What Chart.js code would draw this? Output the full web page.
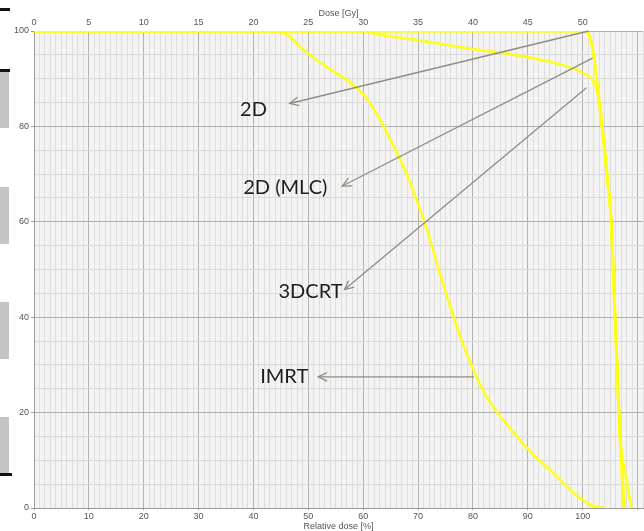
<!DOCTYPE html>
<html><head><meta charset="utf-8">
<script src="https://cdn.jsdelivr.net/npm/chart.js@4"></script>
<style>
html,body{margin:0;padding:0;background:#fff;}
#wrap{position:relative;width:644px;height:531px;overflow:hidden;}
canvas{position:absolute;left:0;top:0;}
.bar{position:absolute;left:0;width:9px;background:#c4c4c4;}
.blk{position:absolute;left:0;height:3px;background:#111;}
</style></head><body>
<div id="wrap"><canvas id="c" width="644" height="531"></canvas>
<div class="blk" style="top:8px;width:10px"></div>
<div class="blk" style="top:69px;width:10px"></div>
<div class="bar" style="top:72px;height:56px"></div>
<div class="bar" style="top:187px;height:57px"></div>
<div class="bar" style="top:302px;height:57px"></div>
<div class="bar" style="top:417px;height:56px"></div>
<div class="blk" style="top:473px;width:12px"></div>
</div>
<script>
// ---- data (relative dose [%] vs volume [%]) ----
const seriesNames = ['2D', '2D (MLC)', '3DCRT', 'IMRT'];
const dose2D = [0, 20, 40, 60, 80, 100, 101, 101.6, 102.1, 102.7, 103.3, 103.9, 104.6, 105.1, 105.5, 105.8, 106.2, 106.5, 106.9, 107.8, 108.9];
const vol2D  = [100, 100, 100, 100, 100, 100, 99.5, 97.5, 94, 88, 82, 76, 68, 62, 52, 43, 32, 23, 14, 7, 0];
const doseMLC = [0, 20, 40, 60, 80, 100.3, 101.1, 101.7, 102.2, 102.8, 103.4, 104.0, 104.6, 105.1, 105.5, 105.8, 106.2, 106.5, 106.8, 107.1, 107.5];
const volMLC  = [100, 100, 100, 100, 100, 100, 99.3, 97, 93.5, 87.5, 81.5, 75.5, 68, 62, 52, 43, 32, 23, 15, 8, 0];
const dose3D = [0, 30, 60.5, 61.5, 70, 78.9, 87.5, 96.2, 99.8, 101.5, 102.4, 103.2, 103.9, 104.6, 105.1, 105.5, 105.8, 106.2, 106.5, 106.8, 107.2, 107.6];
const vol3D  = [100, 100, 100, 99.6, 98.1, 96.4, 95.0, 92.9, 91.4, 90.1, 88.3, 84, 76, 68, 62, 52, 43, 32, 23, 15, 8, 0];
const doseIMRT = [0, 20, 43.8, 46, 49.6, 53.3, 57.5, 60.2, 63.5, 66.5, 68, 71.5, 74.5, 77.8, 82, 87.8, 90.2, 94.5, 98.5, 101.6, 104];
const volIMRT  = [100, 100, 100, 99.2, 95.6, 92.5, 89.3, 86.5, 80.5, 73.6, 69.8, 58.7, 47.2, 35.6, 24.3, 15.3, 12.2, 7.5, 3, 0.6, 0];
const relDoseTicks = [0, 10, 20, 30, 40, 50, 60, 70, 80, 90, 100];
const doseGyTicks = [0, 5, 10, 15, 20, 25, 30, 35, 40, 45, 50];
const volumeTicks = [0, 20, 40, 60, 80, 100];

const pts = (xs, ys) => xs.map((x, i) => ({x: x, y: ys[i]}));
const curveStyle = {
  borderColor: 'rgba(255,255,20,0.9)', borderWidth: 2.8, pointRadius: 0,
  showLine: true, fill: false, cubicInterpolationMode: 'monotone'
};

// annotation placement (data coords)
const notes = [
  {label: seriesNames[0], lx: 40.0, ly: 83.6, tx: 101.1, ty: 100, hx: 46.6, hy: 84.8},
  {label: seriesNames[1], lx: 45.8, ly: 67.2, tx: 101.8, ty: 94.3, hx: 56.2, hy: 67.5},
  {label: seriesNames[2], lx: 50.4, ly: 45.3, tx: 100.7, ty: 88.1, hx: 56.6, hy: 45.8},
  {label: seriesNames[3], lx: 45.6, ly: 27.5, tx: 80.2, ty: 27.5, hx: 51.8, hy: 27.5}
];

const bgPlugin = {
  id: 'bg',
  beforeDraw(chart) {
    const {ctx, chartArea: a} = chart;
    ctx.save();
    ctx.fillStyle = '#ffffff';
    ctx.fillRect(0, 0, chart.width, chart.height);
    ctx.fillStyle = '#f3f3f3';
    ctx.fillRect(a.left, a.top, a.right - a.left, a.bottom - a.top);
    ctx.restore();
  }
};

const notePlugin = {
  id: 'notes',
  afterDatasetsDraw(chart) {
    const {ctx, scales: {x, y}} = chart;
    ctx.save();
    notes.forEach(n => {
      const tx = x.getPixelForValue(n.tx), ty = y.getPixelForValue(n.ty);
      const hx = x.getPixelForValue(n.hx), hy = y.getPixelForValue(n.hy);
      ctx.strokeStyle = '#8e8e80';
      ctx.lineWidth = 1.3;
      ctx.beginPath(); ctx.moveTo(tx, ty); ctx.lineTo(hx, hy); ctx.stroke();
      const ang = Math.atan2(ty - hy, tx - hx);
      const L = 10, w = 0.45;
      ctx.beginPath();
      ctx.moveTo(hx + L * Math.cos(ang + w), hy + L * Math.sin(ang + w));
      ctx.lineTo(hx, hy);
      ctx.lineTo(hx + L * Math.cos(ang - w), hy + L * Math.sin(ang - w));
      ctx.stroke();
      ctx.fillStyle = '#1e1e1e';
      ctx.font = '20px Lato, "Open Sans", sans-serif';
      ctx.textAlign = 'center';
      ctx.textBaseline = 'middle';
      ctx.fillText(n.label, x.getPixelForValue(n.lx), y.getPixelForValue(n.ly));
    });
    ctx.restore();
  }
};

const tickFont = {family: '"Liberation Sans", Arial, sans-serif', size: 9};

new Chart(document.getElementById('c'), {
  type: 'scatter',
  data: {
    datasets: [
      Object.assign({label: seriesNames[0], data: pts(dose2D, vol2D)}, curveStyle),
      Object.assign({label: seriesNames[1], data: pts(doseMLC, volMLC)}, curveStyle),
      Object.assign({label: seriesNames[2], data: pts(dose3D, vol3D)}, curveStyle),
      Object.assign({label: seriesNames[3], data: pts(doseIMRT, volIMRT)}, curveStyle)
    ]
  },
  options: {
    responsive: false,
    animation: false,
    layout: {padding: 0},
    plugins: {legend: {display: false}, tooltip: {enabled: false}},
    scales: {
      x: {
        type: 'linear', position: 'bottom', min: 0, max: 111,
        afterBuildTicks: s => { s.ticks = []; for (let v = 0; v <= 111; v++) s.ticks.push({value: v}); },
        afterFit: s => { s.height = 23; },
        ticks: {
          autoSkip: false, maxRotation: 0, padding: 1, color: '#555', font: tickFont,
          callback: v => relDoseTicks.includes(v) ? String(v) : ''
        },
        grid: {
          color: c => (c.tick && c.tick.value % 10 === 0) ? '#b3b3b3' : '#dedede',
          lineWidth: 1, drawTicks: true, tickLength: 2,
          tickColor: c => (c.tick && c.tick.value % 10 === 0) ? '#999' : 'rgba(0,0,0,0)'
        },
        border: {display: true, color: '#999'},
        title: {display: true, text: 'Relative dose [%]', color: '#555', font: tickFont, padding: {top: 0, bottom: -1}}
      },
      x2: {
        type: 'linear', position: 'top', min: 0, max: 55.5,
        afterBuildTicks: s => { s.ticks = doseGyTicks.map(v => ({value: v})); },
        afterFit: s => { s.height = 31; },
        ticks: {autoSkip: false, maxRotation: 0, padding: 3, color: '#555', font: tickFont},
        grid: {display: false, drawTicks: false},
        border: {display: false},
        title: {display: true, text: 'Dose [Gy]', color: '#555', font: tickFont, padding: {top: 8, bottom: 0}}
      },
      y: {
        type: 'linear', min: 0, max: 100,
        afterBuildTicks: s => { s.ticks = []; for (let v = 0; v <= 100; v += 5) s.ticks.push({value: v}); },
        afterFit: s => { s.width = 34; },
        ticks: {
          autoSkip: false, padding: 2, color: '#555', font: tickFont,
          callback: v => volumeTicks.includes(v) ? String(v) : ''
        },
        grid: {
          color: c => (c.tick && c.tick.value % 20 === 0) ? '#b0b0b0' : '#d9d9d9',
          lineWidth: 1, drawTicks: true, tickLength: 3,
          tickColor: c => (c.tick && c.tick.value % 20 === 0) ? '#999' : 'rgba(0,0,0,0)'
        },
        border: {display: true, color: '#999'}
      }
    }
  },
  plugins: [bgPlugin, notePlugin]
});
</script>
</body></html>
